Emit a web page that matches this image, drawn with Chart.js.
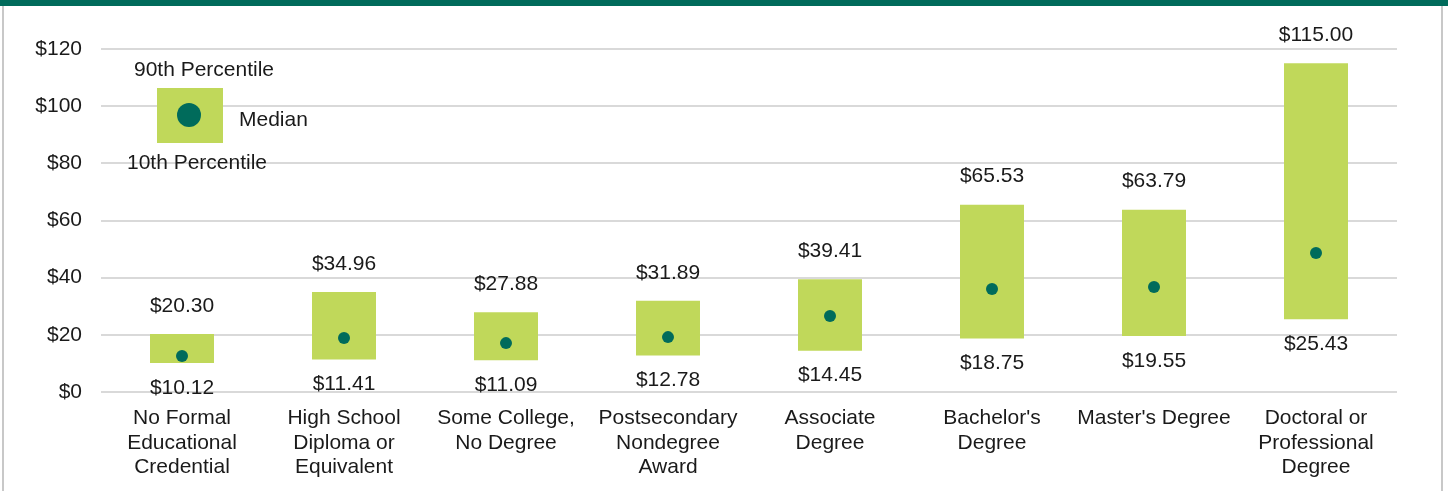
<!DOCTYPE html>
<html>
<head>
<meta charset="utf-8">
<script src="https://cdn.jsdelivr.net/npm/chart.js@4"></script>
<style>
	html, body { margin: 0; padding: 0; background: #fff; }
	#wrap { position: relative; width: 1448px; height: 491px; overflow: hidden; }
	#band { position: absolute; left: 0; top: 0; width: 1448px; height: 6px; background: #006b5b; }
	#lb { position: absolute; left: 2px; top: 6px; width: 2px; height: 485px; background: #c8c8c8; }
	#rb { position: absolute; left: 1441px; top: 6px; width: 2px; height: 485px; background: #c8c8c8; }
	canvas { position: absolute; left: 0; top: 0; }
</style>
</head>
<body>
<div id="wrap">
	<canvas id="myChart" width="1448" height="491"></canvas>
	<div id="band"></div>
	<div id="lb"></div>
	<div id="rb"></div>
</div>
<script>
//categories
const categories = [
	["No Formal", "Educational", "Credential"],
	["High School", "Diploma or", "Equivalent"],
	["Some College,", "No Degree"],
	["Postsecondary", "Nondegree", "Award"],
	["Associate", "Degree"],
	["Bachelor's", "Degree"],
	["Master's Degree"],
	["Doctoral or", "Professional", "Degree"]
];
//hourly wages
const p10 = [10.12, 11.41, 11.09, 12.78, 14.45, 18.75, 19.55, 25.43];
const p90 = [20.30, 34.96, 27.88, 31.89, 39.41, 65.53, 63.79, 115.00];
const median = [12.6, 18.9, 17.1, 19.2, 26.6, 36.0, 36.7, 48.6];
const yTicks = [0, 20, 40, 60, 80, 100, 120];

const lime = "#c0d85a";
const teal = "#006b5b";
const family = "'Liberation Sans', Arial, sans-serif";
const font = "21px " + family;

//value labels above and below each bar + the little legend box
const labelPlugin = {
	id: "labels",
	afterDatasetsDraw(chart) {
		const ctx = chart.ctx;
		const x = chart.scales.x, y = chart.scales.y;
		ctx.save();
		ctx.font = font;
		ctx.fillStyle = "#1a1a1a";
		ctx.textAlign = "center";
		ctx.textBaseline = "middle";
		for (let i = 0; i < categories.length; i++) {
			const cx = x.getPixelForValue(i);
			ctx.fillText("$" + p90[i].toFixed(2), cx, y.getPixelForValue(p90[i]) - 28);
			ctx.fillText("$" + p10[i].toFixed(2), cx, y.getPixelForValue(p10[i]) + 25);
		}
		//legend
		ctx.fillStyle = lime;
		ctx.fillRect(157, 88, 66, 55);
		ctx.fillStyle = teal;
		ctx.beginPath();
		ctx.arc(189, 115, 12, 0, Math.PI * 2);
		ctx.fill();
		ctx.fillStyle = "#1a1a1a";
		ctx.fillText("90th Percentile", 204, 70);
		ctx.fillText("10th Percentile", 197, 163);
		ctx.textAlign = "left";
		ctx.fillText("Median", 239, 120);
		ctx.restore();
	}
};

var ctx = document.getElementById("myChart").getContext("2d");
var myChart = new Chart(ctx, {
	type: "bar",
	data: {
		labels: categories,
		datasets: [{
			type: "line",
			label: "Median",
			data: median,
			showLine: false,
			pointRadius: 6,
			pointBackgroundColor: teal,
			pointBorderWidth: 0,
			order: 0
		}, {
			label: "Range",
			data: p10.map((v, i) => [v, p90[i]]),
			backgroundColor: lime,
			barPercentage: 0.395,
			categoryPercentage: 1,
			order: 1
		}]
	},
	options: {
		responsive: false,
		animation: false,
		layout: { padding: { top: 49, right: 51, left: 0, bottom: 0 } },
		plugins: { legend: { display: false }, tooltip: { enabled: false } },
		scales: {
			x: {
				grid: { display: false, drawTicks: false },
				border: { display: false },
				ticks: {
					color: "#1a1a1a",
					font: { family: family, size: 21, lineHeight: 1.17 },
					padding: 14,
					maxRotation: 0,
					autoSkip: false
				},
				afterFit(scale) { scale.height = 99; }
			},
			y: {
				min: 0,
				max: 120,
				afterBuildTicks(scale) { scale.ticks = yTicks.map(v => ({ value: v })); },
				grid: { color: "#d9d9d9", lineWidth: 2, drawTicks: false },
				border: { display: false },
				ticks: {
					color: "#1a1a1a",
					font: { family: family, size: 21 },
					padding: 19,
					callback: v => "$" + v
				},
				afterFit(scale) { scale.width = 101; }
			}
		}
	},
	plugins: [labelPlugin]
});
</script>
</body>
</html>
